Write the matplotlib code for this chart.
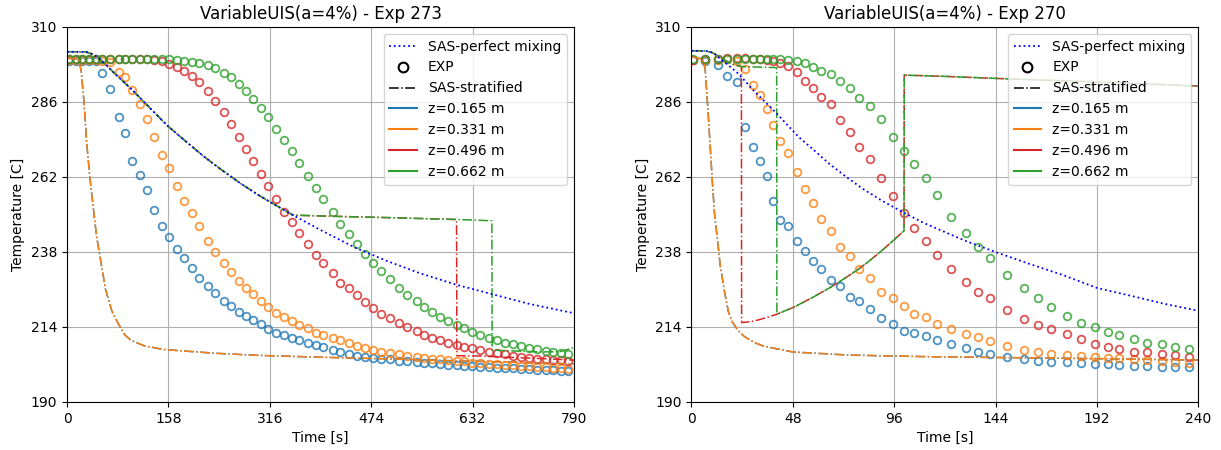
import matplotlib
matplotlib.use('Agg')
import matplotlib.pyplot as plt
from matplotlib.lines import Line2D

# labels / colours of the four thermocouple heights
heights = ['z=0.165 m', 'z=0.331 m', 'z=0.496 m', 'z=0.662 m']
colors = ['tab:blue', 'tab:orange', 'tab:red', 'tab:green']

# ---------------- Exp 273 ----------------
t_273 = [3, 14, 24, 34, 45, 54, 67, 81, 91, 102, 114, 125, 136, 148, 159, 172, 183, 194, 206,
         219, 231, 244, 256, 268, 279, 290, 303, 313, 326, 338, 350, 362, 375, 388, 399,
         414, 426, 440, 452, 464, 477, 490, 503, 518, 530, 545, 556, 568, 581, 594, 607,
         619, 631, 644, 657, 670, 683, 695, 708, 720, 733, 746, 758, 769, 781]
exp273_z1 = [299.2, 299.2, 299.2, 299.1, 299.0,
             295.2, 290.2, 281.1, 276.0, 267.2, 262.7, 257.8, 251.4, 246.4, 242.9, 238.9, 236.0,
             233.0, 229.8, 227.2, 224.8, 222.4, 220.8, 218.9, 217.5, 216.2, 214.9, 213.3, 212.2,
             211.4, 210.6, 209.8, 209.0, 208.1, 207.6,
             206.6, 205.9, 205.4, 204.8, 204.5, 204.2, 203.9, 203.7, 203.2, 203.1, 202.8, 202.6,
             202.4, 202.2, 201.9, 201.7, 201.6, 201.4, 201.2, 201.1, 200.9, 200.9, 200.8, 200.6,
             200.6, 200.3, 200.2, 200.1, 200.0, 199.9]
exp273_z2 = [299.5, 299.5, 299.5, 299.5, 299.4, 299.2,
             298.7, 295.5, 293.9, 289.8, 285.4, 280.5, 274.9, 269.0, 264.8, 259.2, 254.4, 250.4,
             246.3, 241.5, 237.9, 234.6, 231.5, 228.7, 226.4, 224.5, 222.3, 220.5, 218.6, 217.3,
             215.9, 214.6, 213.6, 212.2, 211.4,
             210.6, 209.8, 208.8, 207.9, 207.2, 206.6, 206.1, 205.6, 205.3, 204.7, 204.5, 204.2,
             203.9, 203.7, 203.5, 203.1, 203.0, 202.6, 202.4, 202.2, 202.1, 201.9, 201.7, 201.6,
             201.4, 201.2, 201.1, 200.9, 200.8, 200.6]
exp273_z3 = [299.6, 299.6, 299.6, 299.6, 299.6, 299.6, 299.6, 299.6, 299.6, 299.6, 299.6, 299.6,
             299.4, 299.2, 298.2, 297.1, 295.9, 294.4, 292.3, 289.5, 286.4, 282.7, 278.9, 274.9,
             271.1, 267.2, 262.9, 259.2, 255.0, 250.9, 247.5, 244.2, 240.6, 237.0, 234.4,
             231.2, 228.2, 226.4, 224.2, 222.1, 220.0, 218.2, 216.8, 215.4, 214.1, 212.7, 211.4,
             210.6, 209.8, 209.0, 208.2, 207.7, 207.2, 206.6, 206.1, 205.6, 205.3, 204.8, 204.5,
             204.2, 203.9, 203.7, 203.5, 203.3, 203.0]
exp273_z4 = [299.9, 299.9, 299.9, 299.9, 299.9, 299.9, 299.9, 299.9, 299.9, 299.9, 299.9, 299.9,
             299.9, 299.9,
             299.8, 299.4, 299.2, 298.9, 298.4, 297.8, 296.8, 295.4, 294.1, 291.8, 289.5, 287.0,
             284.2, 281.1, 277.4, 273.8, 270.4, 266.6, 262.4, 258.6, 254.9,
             250.9, 246.9, 243.7, 240.6, 237.3, 234.6, 232.0, 229.3, 226.4, 224.2, 222.3, 220.5,
             218.9, 217.3, 215.9, 214.6, 213.6, 212.5, 211.4, 210.6, 209.8, 209.0, 208.5, 207.9,
             207.4, 206.9, 206.3, 205.9, 205.6, 205.3]

# SAS-perfect mixing
tmix_273 = [0, 30, 40, 50, 60, 80, 102, 130, 156, 185, 213, 240, 270, 300, 330, 352, 400, 450,
            500, 550, 607, 659, 720, 790]
Tmix_273 = [302.1, 302.0, 301.3, 300.0, 298.0, 294.0, 289.8, 283.9, 278.5, 273.4, 268.6, 264.4,
            260.0, 256.0, 252.4, 249.8, 244.5, 239.3, 235.0, 231.2, 227.5, 224.7, 221.4, 218.4]

# SAS-stratified
ts_low_273 = [0, 18, 22, 26, 31, 36, 41, 46, 51, 60, 70, 80, 90, 100, 120, 150, 230, 300, 400,
              500, 600, 700, 790]
Ts_low_273 = [300.0, 299.8, 296.0, 287.0, 272.0, 261.0, 252.0, 243.0, 237.0, 226.0, 219.0, 215.0,
              211.5, 209.7, 208.0, 206.8, 205.6, 204.9, 204.3, 203.8, 203.2, 202.7, 202.2]
ts_z3_273 = [0, 30, 40, 50, 60, 80, 102, 130, 156, 185, 213, 240, 270, 300, 330, 352, 400, 500,
             607, 607.5, 645, 700, 750, 790]
Ts_z3_273 = [302.1, 302.0, 301.3, 300.0, 298.0, 294.0, 289.8, 283.9, 278.5, 273.4, 268.6, 264.4,
             260.0, 256.0, 252.4, 249.8, 249.5, 249.0, 248.4, 204.8, 204.7, 204.2, 203.8, 203.4]
ts_z4_273 = [0, 30, 40, 50, 60, 80, 102, 130, 156, 185, 213, 240, 270, 300, 330, 352, 400, 500,
             607, 662, 662.5, 700, 740, 768, 790]
Ts_z4_273 = [302.1, 302.0, 301.3, 300.0, 298.0, 294.0, 289.8, 283.9, 278.5, 273.4, 268.6, 264.4,
             260.0, 256.0, 252.4, 249.8, 249.5, 249.0, 248.4, 248.0, 206.6, 206.3, 206.0, 206.1,
             207.4]

# ---------------- Exp 270 ----------------
t_270 = [0.8, 6.3, 12.7, 17.1, 21.4, 25.3, 29.3, 32.5, 35.6, 38.8, 42.0, 45.9, 49.9, 53.8, 57.5,
         61.4, 66.0, 70.5, 74.9, 79.6, 84.4, 89.9, 95.5, 100.8, 105.6, 111.3, 116.3, 123.0,
         130.0, 135.8, 141.4, 149.6, 157.5, 164.3, 170.3, 177.8, 184.4, 190.9, 197.1, 202.3,
         209.4, 215.8, 222.6, 228.9, 235.8]
exp270_z1 = [299.4, 299.2, 297.8, 294.4, 292.3, 278.1, 271.7, 267.2, 262.3, 254.4, 248.2, 246.3,
             241.5, 238.4, 235.2, 232.4, 229.0, 227.2, 223.7, 222.3, 219.7, 217.0, 214.8, 212.7,
             212.0, 211.1, 209.8, 208.6,
             207.2, 205.9, 205.3, 204.5, 203.8, 203.2, 202.9, 202.7, 202.4, 202.2, 202.1, 201.8,
             201.6, 201.4, 201.3, 201.3, 201.2]
exp270_z2 = [299.4, 299.4, 299.5, 299.8, 299.2, 296.5, 291.4, 288.2, 283.7, 278.6, 273.6, 269.6,
             263.7, 258.2, 253.6, 248.6, 244.8, 239.7, 236.7, 232.5, 229.6, 225.3, 223.2, 220.7,
             218.2, 217.1, 214.9, 213.3,
             211.8, 210.9, 209.5, 208.0, 206.6, 205.9, 205.3, 205.0, 204.8, 204.5, 204.2, 204.0,
             203.6, 203.4, 203.2, 202.9, 202.6]
exp270_z3 = [299.5, 299.6, 299.8, 300.0, 300.0, 300.0, 299.7, 299.7, 299.4, 299.2, 298.6, 297.5,
             295.5, 292.8, 290.4, 287.7, 285.3, 280.2, 276.5, 271.7, 267.7, 261.8, 255.9, 250.6,
             245.8, 241.5, 237.0, 232.6,
             228.5, 225.3, 223.2, 219.4, 216.6, 214.6, 213.3, 211.6, 210.2, 208.6, 207.5, 207.0,
             206.1, 205.9, 205.3, 205.0, 204.5]
exp270_z4 = [299.7, 299.7, 299.8, 299.8, 299.8, 299.8, 299.7, 299.7, 299.7, 299.7, 299.7, 299.4,
             299.2, 298.6, 297.3, 296.0, 295.0, 292.8, 290.6, 287.2, 284.8, 280.5, 274.9, 270.3,
             266.2, 261.8, 256.2, 249.3,
             244.2, 239.5, 236.0, 230.6, 226.4, 223.2, 220.5, 217.5, 215.4, 213.9, 212.3, 211.4,
             210.2, 209.0, 208.5, 207.7, 206.8]

tmix_270 = [0, 8, 11, 14, 18, 22, 26, 30, 35, 40, 45, 51, 58, 65, 73, 81, 90, 100, 110, 121, 130,
            144, 160, 176, 192, 208, 224, 240]
Tmix_270 = [302.4, 302.3, 301.5, 299.6, 297.5, 295.2, 292.3, 289.3, 286.0, 282.6, 279.0, 274.7,
            270.6, 266.4, 262.2, 258.3, 254.5, 250.8, 247.3, 244.1, 241.5, 238.0, 234.2, 230.6,
            226.5, 224.0, 221.4, 219.2]

ts_low_270 = [0, 5, 6.5, 8, 10, 11, 12.7, 13.6, 15.8, 17.5, 19.5, 22, 25, 30, 34, 48, 75, 112,
              150, 200, 240]
Ts_low_270 = [300.5, 299.8, 297.0, 282.0, 260.0, 250.0, 240.0, 234.0, 225.0, 219.0, 215.5, 213.0,
              211.0, 209.0, 207.9, 206.0, 205.0, 204.5, 204.2, 203.8, 203.4]
ts_z3_270 = [0, 7, 10, 13, 16, 20, 23.7, 23.8, 28, 32, 36, 40.5, 48.4, 57, 65.9, 72, 78.5, 84,
             89.6, 95, 100.7, 100.8, 120, 150, 180, 210, 240]
Ts_z3_270 = [302.4, 302.3, 301.8, 300.5, 299.3, 298.0, 297.3, 215.4, 215.7, 216.3, 217.1, 218.1,
             220.3, 223.3, 226.7, 229.3, 232.2, 235.0, 238.1, 241.3, 244.8, 294.6, 294.2, 293.4,
             292.7, 291.9, 291.1]
ts_z4_270 = [0, 7, 10, 13, 16, 20, 23.7, 30, 40.4, 40.5, 48.4, 57, 65.9, 72, 78.5, 84, 89.6, 95,
             100.7, 100.8, 120, 150, 180, 210, 240]
Ts_z4_270 = [302.4, 302.3, 301.8, 300.5, 299.3, 298.0, 297.3, 297.2, 297.0, 218.1, 220.3, 223.3,
             226.7, 229.3, 232.2, 235.0, 238.1, 241.3, 244.8, 294.6, 294.2, 293.4, 292.7, 291.9,
             291.1]


def draw(ax, title, t_exp, exps, tmix, Tmix, strat, xmax):
    for T, c in zip(exps, colors):
        ax.plot(t_exp, T, 'o', mfc='none', mec=c, ms=5.5, mew=1.3, alpha=0.8)
    for (ts, Ts), c in zip(strat, colors):
        ax.plot(ts, Ts, '-.', color=c, lw=1.1)
    ax.plot(tmix, Tmix, ':', color='b', lw=1.3)
    ax.set_xlim(0, xmax)
    ax.set_ylim(190, 310)
    ax.set_xticks([xmax * i / 5 for i in range(6)])
    ax.set_yticks([190, 214, 238, 262, 286, 310])
    ax.grid(True)
    ax.set_title(title)
    ax.set_xlabel('Time [s]')
    ax.set_ylabel('Temperature [C]')
    handles = [Line2D([], [], color='b', ls=':', lw=1.3, label='SAS-perfect mixing'),
               Line2D([], [], ls='none', marker='o', mfc='none', mec='k', ms=7, mew=1.5, label='EXP'),
               Line2D([], [], color='k', ls='-.', lw=1.1, label='SAS-stratified')]
    for h, c in zip(heights, colors):
        handles.append(Line2D([], [], color=c, lw=1.5, label=h))
    ax.legend(handles=handles, loc='upper right')


fig = plt.figure(figsize=(12.21, 4.5), dpi=100)
ax1 = fig.add_axes([0.0549, 0.1067, 0.4152, 0.8333])
ax2 = fig.add_axes([0.5662, 0.1067, 0.4152, 0.8333])

draw(ax1, 'VariableUIS(a=4%) - Exp 273', t_273,
     [exp273_z1, exp273_z2, exp273_z3, exp273_z4], tmix_273, Tmix_273,
     [(ts_low_273, Ts_low_273), (ts_low_273, Ts_low_273), (ts_z3_273, Ts_z3_273), (ts_z4_273, Ts_z4_273)],
     790)
draw(ax2, 'VariableUIS(a=4%) - Exp 270', t_270,
     [exp270_z1, exp270_z2, exp270_z3, exp270_z4], tmix_270, Tmix_270,
     [(ts_low_270, Ts_low_270), (ts_low_270, Ts_low_270), (ts_z3_270, Ts_z3_270), (ts_z4_270, Ts_z4_270)],
     240)

fig.savefig('out.png', dpi=100)
